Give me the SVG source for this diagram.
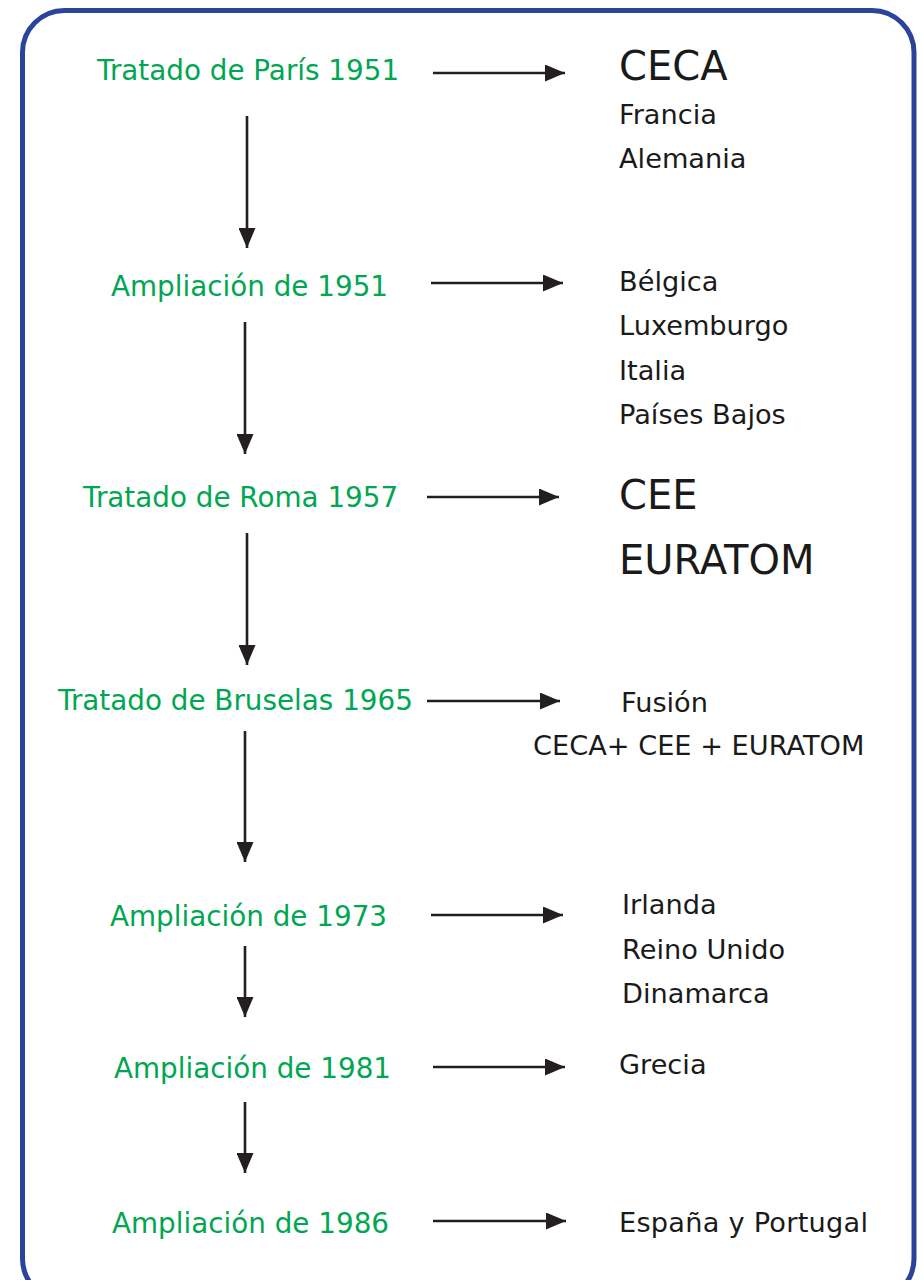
<svg xmlns="http://www.w3.org/2000/svg" width="923" height="1280" viewBox="0 0 923 1280">
<style>
.g{font-family:"DejaVu Sans",Verdana,sans-serif;font-size:27.8px;fill:#00a651}
.b{font-family:"DejaVu Sans",Verdana,sans-serif;font-size:27.2px;fill:#1a1a1a}
.B{font-family:"DejaVu Sans",Verdana,sans-serif;font-size:40px;fill:#1a1a1a}
.c line{stroke:#231f20;stroke-width:2.6;marker-end:url(#ah)}
</style>
<defs>
<marker id="ah" markerUnits="userSpaceOnUse" markerWidth="20" markerHeight="17" refX="20" refY="8.5" orient="auto">
<path d="M0,0 L20,8.5 L0,17 Z" fill="#231f20"/>
</marker>
</defs>
<rect x="22.5" y="10.5" width="891.5" height="1290" rx="42" ry="42" fill="#fff" stroke="#2a449c" stroke-width="5"/>
<g id="n1"><text class="g" x="97" y="80">Tratado de París 1951</text></g>
<g id="r1"><text class="B" x="619" y="80">CECA</text><text class="b" x="619" y="124">Francia</text><text class="b" x="619" y="168">Alemania</text></g>
<g id="n2"><text class="g" x="111" y="296">Ampliación de 1951</text></g>
<g id="r2"><text class="b" x="619" y="291">Bélgica</text><text class="b" x="619" y="335">Luxemburgo</text><text class="b" x="619" y="380">Italia</text><text class="b" x="619" y="424">Países Bajos</text></g>
<g id="n3"><text class="g" x="83" y="507">Tratado de Roma 1957</text></g>
<g id="r3"><text class="B" x="619" y="509">CEE</text><text class="B" x="619" y="574">EURATOM</text></g>
<g id="n4"><text class="g" x="58" y="710">Tratado de Bruselas 1965</text></g>
<g id="r4"><text class="b" x="621" y="712">Fusión</text><text class="b" x="533" y="755">CECA+ CEE + EURATOM</text></g>
<g id="n5"><text class="g" x="110" y="926">Ampliación de 1973</text></g>
<g id="r5"><text class="b" x="622" y="914">Irlanda</text><text class="b" x="622" y="959">Reino Unido</text><text class="b" x="622" y="1003">Dinamarca</text></g>
<g id="n6"><text class="g" x="114" y="1078">Ampliación de 1981</text></g>
<g id="r6"><text class="b" x="619" y="1074">Grecia</text></g>
<g id="n7"><text class="g" x="112" y="1233">Ampliación de 1986</text></g>
<g id="r7"><text class="b" x="619" y="1232" textLength="249">España y Portugal</text></g>
<g class="c" id="connectors">
<line x1="433" y1="73" x2="565" y2="73"/>
<line x1="431" y1="283" x2="563" y2="283"/>
<line x1="427" y1="497" x2="559" y2="497"/>
<line x1="427" y1="701" x2="560" y2="701"/>
<line x1="431" y1="915" x2="563" y2="915"/>
<line x1="433" y1="1067" x2="565" y2="1067"/>
<line x1="433" y1="1221" x2="566" y2="1221"/>
<line x1="247" y1="116" x2="247" y2="248"/>
<line x1="245" y1="322" x2="245" y2="454"/>
<line x1="247" y1="533" x2="247" y2="665"/>
<line x1="245" y1="731" x2="245" y2="862"/>
<line x1="245" y1="946" x2="245" y2="1017"/>
<line x1="245" y1="1102" x2="245" y2="1173"/>
</g>
</svg>
